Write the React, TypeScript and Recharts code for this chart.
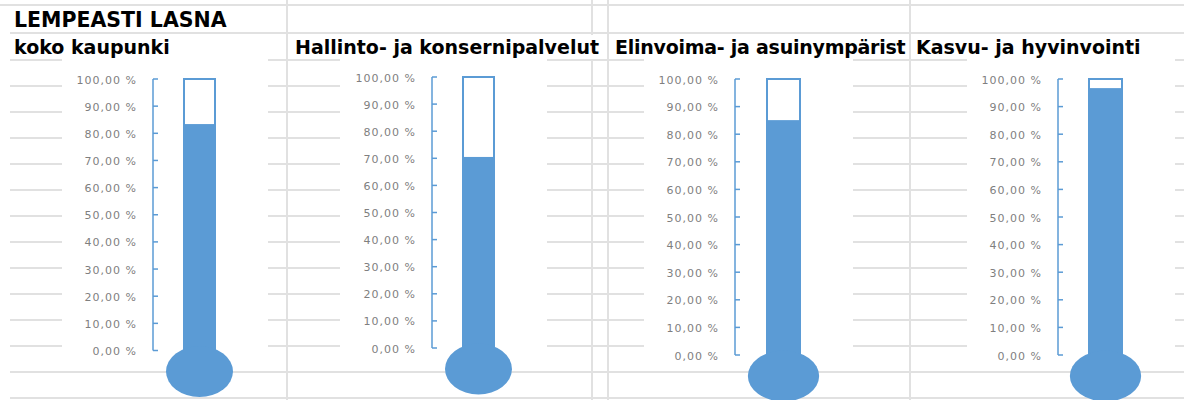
import React from "react";
import { BarChart, Bar, XAxis, YAxis } from "recharts";

// values read from the sheet
const sheetTitle = "LEMPEASTI LASNA";
const units = [
  "koko kaupunki",
  "Hallinto- ja konsernipalvelut",
  "Elinvoima- ja asuinympärist",
  "Kasvu- ja hyvinvointi",
];
const shares = [0.834, 0.705, 0.851, 0.967];
const scaleMax = 1;
const yTicks = [0, 0.1, 0.2, 0.3, 0.4, 0.5, 0.6, 0.7, 0.8, 0.9, 1];

const BLUE = "#5B9BD5";
const GRID = "#e1e1e1";
const LABEL = "#7f7f7f";

// sheet grid (row / column lines)
const rowLines = [5, 33, 60, 86, 112, 138, 164, 190, 216, 242, 268, 294, 320, 346, 372, 398];
const colLines = [287, 592, 608, 910];

// where each thermometer sits on the page
const panels = [
  { box: [62, 268], axisX: 153, top: 79, bottom: 350.5, tubeX: 199.5, tubeW: 31, titleX: 14, spacing: 0 },
  { box: [340, 547], axisX: 432, top: 77, bottom: 348, tubeX: 478, tubeW: 31, titleX: 295, spacing: 0 },
  { box: [644, 853], axisX: 735, top: 79, bottom: 355, tubeX: 783.5, tubeW: 33, titleX: 615, spacing: -0.25 },
  { box: [967, 1175], axisX: 1058, top: 79, bottom: 355, tubeX: 1105.5, tubeW: 33, titleX: 916, spacing: 0 },
];

const BOX_TOP = 58;
const BOX_BOTTOM = 362;
const SVG_TOP = 57;
const SVG_H = 400 - SVG_TOP;

function fmtPct(v: number) {
  return (v * 100).toFixed(2).replace(".", ",") + " %";
}

function Bulb(props: any) {
  const { x, y, width, height, fill } = props;
  const base = y + height;
  return (
    <g>
      <rect x={x} y={y} width={width} height={height} fill={fill} />
      <ellipse cx={x + width / 2} cy={base + 21} rx={width * 1.08} ry={25.5} fill={fill} />
    </g>
  );
}

function Thermometer({ name, value, p }: { name: string; value: number; p: any }) {
  const left = p.box[0];
  const w = p.box[1] - p.box[0];
  const axisW = p.axisX - left;
  const plotRight = 2 * p.tubeX - p.axisX;
  const data = [{ name, max: scaleMax, value }];

  const tick = (props: any) => {
    const { y, payload } = props;
    return (
      <g>
        <line x1={axisW} x2={axisW + 5} y1={y} y2={y} stroke={BLUE} strokeWidth={1.5} />
        <text
          x={axisW - 16}
          y={y + 1}
          textAnchor="end"
          dominantBaseline="central"
          fontFamily="DejaVu Sans, sans-serif"
          fontSize={11}
          fill={LABEL}
          style={{ letterSpacing: "1px" }}
        >
          {fmtPct(payload.value)}
        </text>
      </g>
    );
  };

  return (
    <div style={{ position: "absolute", left, top: SVG_TOP }}>
      <BarChart
        width={w}
        height={SVG_H}
        data={data}
        margin={{
          top: p.top - SVG_TOP,
          right: p.box[1] - plotRight,
          bottom: SVG_TOP + SVG_H - p.bottom,
          left: 0,
        }}
      >
        <XAxis xAxisId="tube" dataKey="name" hide />
        <XAxis xAxisId="fill" dataKey="name" hide />
        <YAxis
          domain={[0, scaleMax]}
          ticks={yTicks}
          interval={0}
          width={axisW}
          axisLine={{ stroke: BLUE, strokeWidth: 1.5 }}
          tickLine={false}
          tick={tick}
        />
        <Bar
          xAxisId="tube"
          dataKey="max"
          fill="#ffffff"
          stroke={BLUE}
          strokeWidth={2}
          barSize={p.tubeW}
          isAnimationActive={false}
        />
        <Bar
          xAxisId="fill"
          dataKey="value"
          fill={BLUE}
          barSize={p.tubeW}
          isAnimationActive={false}
          shape={Bulb}
        />
      </BarChart>
    </div>
  );
}

const titleStyle: React.CSSProperties = {
  position: "absolute",
  fontFamily: "DejaVu Sans, sans-serif",
  fontWeight: "bold",
  fontSize: 19,
  lineHeight: "24px",
  height: 24,
  color: "#000",
  whiteSpace: "nowrap",
};

export default function App() {
  return (
    <div
      style={{
        position: "absolute",
        left: 0,
        top: 0,
        width: 1184,
        height: 400,
        overflow: "hidden",
        background: "#fff",
      }}
    >
      {rowLines.map((y, i) => (
        <div
          key={"r" + y}
          style={{ position: "absolute", left: i === 0 ? 0 : 10, right: 0, top: y - 1, height: 2, background: GRID }}
        />
      ))}
      {colLines.map((x) => (
        <div
          key={"c" + x}
          style={{ position: "absolute", top: 0, bottom: 0, left: x - 1, width: 2, background: GRID }}
        />
      ))}

      <div style={{ ...titleStyle, left: 14, top: 8, fontSize: 20.5 }}>{sheetTitle}</div>
      {units.map((u, i) => (
        <div
          key={u}
          style={{
            ...titleStyle,
            left: panels[i].titleX,
            top: 35,
            letterSpacing: panels[i].spacing + "px",
            background: "#fff",
          }}
        >
          {u}
        </div>
      ))}

      {panels.map((p, i) => (
        <div
          key={"b" + i}
          style={{
            position: "absolute",
            left: p.box[0],
            top: BOX_TOP,
            width: p.box[1] - p.box[0],
            height: BOX_BOTTOM - BOX_TOP,
            background: "#fff",
          }}
        />
      ))}
      {panels.map((p, i) => (
        <Thermometer key={units[i]} name={units[i]} value={shares[i]} p={p} />
      ))}
    </div>
  );
}
